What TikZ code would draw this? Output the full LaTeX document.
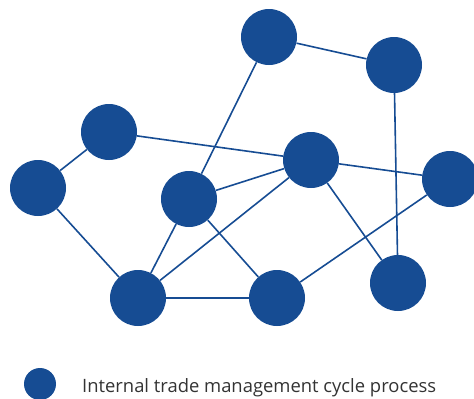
\documentclass[tikz,border=0pt]{standalone}
\usepackage{fontspec}
\setmainfont{Open Sans}
\definecolor{netblue}{HTML}{164C93}
\definecolor{txtgray}{HTML}{333333}
\begin{document}
\begin{tikzpicture}[x=1pt,y=-1pt,
  hub/.style={circle,fill=netblue,inner sep=0pt,minimum size=56pt},
  link/.style={draw=netblue,line width=1.6pt},
  legdot/.style={circle,fill=netblue,inner sep=0pt,minimum size=32pt}]
\useasboundingbox (0,0) rectangle (474,399);
\node[hub] (a) at (269,37) {};
\node[hub] (b) at (394,65) {};
\node[hub] (c) at (109,132) {};
\node[hub] (d) at (38,188) {};
\node[hub] (e) at (311,160) {};
\node[hub] (f) at (450,179) {};
\node[hub] (g) at (189,199) {};
\node[hub] (h) at (138,298) {};
\node[hub] (i) at (277,298) {};
\node[hub] (j) at (398,283) {};
\draw[link] (a) -- (b);
\draw[link] (a) -- (g);
\draw[link] (b) -- (j);
\draw[link] (c) -- (d);
\draw[link] (c) -- (e);
\draw[link] (e) -- (f);
\draw[link] (d) -- (h);
\draw[link] (g) -- (e);
\draw[link] (g) -- (h);
\draw[link] (g) -- (i);
\draw[link] (e) -- (h);
\draw[link] (e) -- (j);
\draw[link] (h) -- (i);
\draw[link] (i) -- (f);
\node[legdot] (leg) at (40,384) {};
\node[anchor=base west,inner sep=0pt,text=txtgray,font=\fontsize{18.4}{22}\selectfont] (lab) at (82,392) {Internal trade management cycle process};
\end{tikzpicture}
\end{document}
